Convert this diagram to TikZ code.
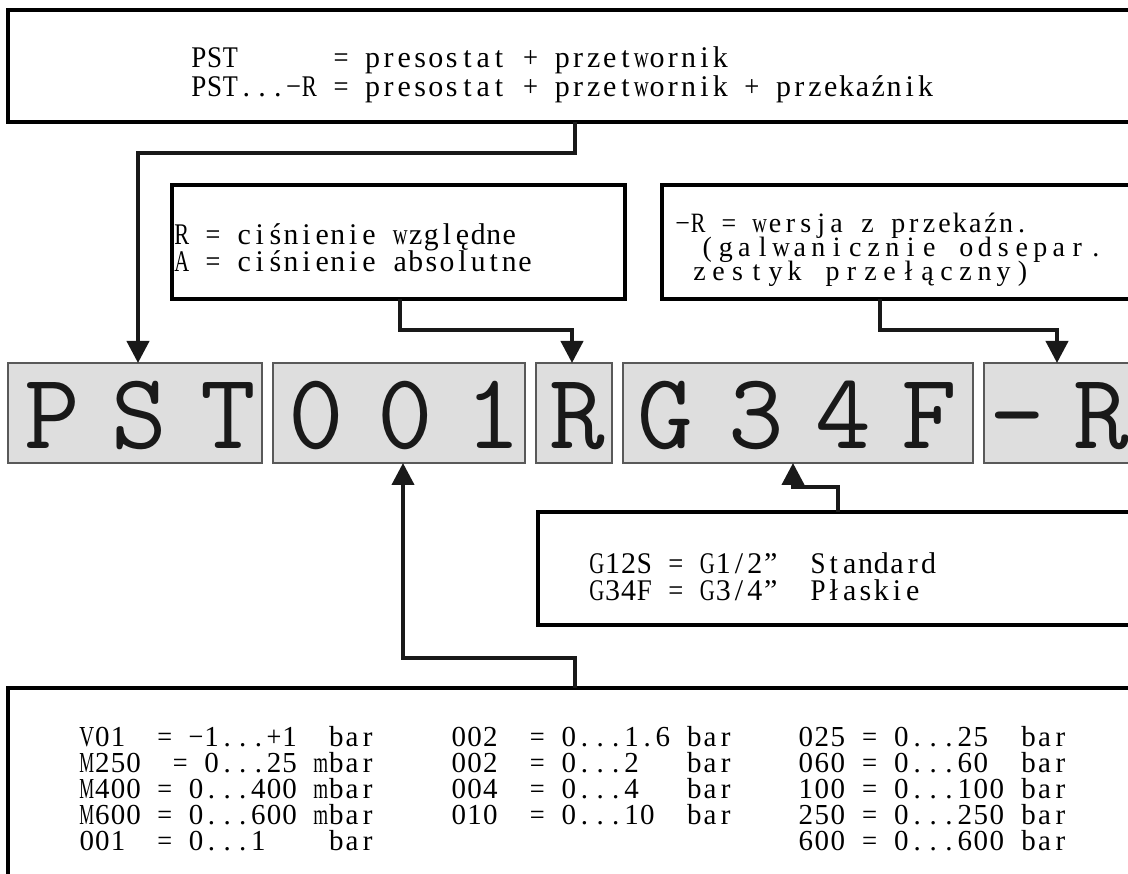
\documentclass[tikz,border=0pt]{standalone}
\usepackage{fontspec}
\usepackage{graphicx}
\usetikzlibrary{arrows.meta}
\newfontfamily\txtfont{Liberation Serif}
\newlength\monocw
\newlength\monomax
\newsavebox\monobox
\setlength\monocw{15.8pt}
\makeatletter
\def\mono@end{\mono@end}
\newcommand\mono@cell[1]{%
  \sbox\monobox{#1}%
  \ifdim\wd\monobox>\monomax\relax
    \pgfmathsetmacro\mono@f{\the\monomax/\the\wd\monobox}%
    \makebox[\monocw][c]{\scalebox{\mono@f}[1]{\usebox\monobox}}%
  \else
    \makebox[\monocw][c]{\usebox\monobox}%
  \fi}
\def\mono@aux#1{\ifx#1\mono@end\else\mono@cell{#1}\expandafter\mono@aux\fi}
\newcommand\monostr[2][15.8pt]{\setlength\monocw{#1}\setlength\monomax{0.95\monocw}\mono@aux#2\mono@end}
\makeatother
\tikzset{
  box/.style={draw=black, line width=4pt, inner sep=0pt, outer sep=0pt, anchor=north west},
  cbox/.style={draw=black!65, line width=1.3pt, fill=black!13, inner sep=0pt, outer sep=0pt, anchor=north west, minimum height=100pt},
  txt/.style={font=\txtfont\fontsize{30}{30}\selectfont, anchor=base west, inner sep=0pt, outer sep=0pt},
  smalltxt/.style={txt, font=\txtfont\fontsize{28}{28}\selectfont},
  rangetxt/.style={txt, font=\txtfont\fontsize{29}{29}\selectfont},
  code/.style={font=\fontsize{108}{108}\ttfamily\selectfont, anchor=base, inner sep=0pt, text=black!90},
  conn/.style={line width=4pt, draw=black!90, line join=miter},
  arr/.style={conn, -{Triangle[width=22pt,length=22pt]}}
}
\begin{document}
\begin{tikzpicture}[x=1pt,y=-1pt]
\useasboundingbox (0,0) rectangle (1128,874);
\clip (0,0) rectangle (1128,874);
\fill[white] (0,0) rectangle (1128,874);

% description boxes
\node[box, minimum width=1150pt, minimum height=112pt] (topbox) at (8,10) {};
\node[box, minimum width=453pt, minimum height=114pt] (relbox) at (172,185) {};
\node[box, minimum width=500pt, minimum height=114pt] (relaybox) at (662,185) {};
\node[box, minimum width=600pt, minimum height=113pt] (gbox) at (538,512) {};
\node[box, minimum width=1150pt, minimum height=300pt] (rangebox) at (8,688) {};

% code boxes
\node[cbox, minimum width=254pt] (bPST) at (8,363) {};
\node[cbox, minimum width=252pt] (b001) at (273,363) {};
\node[cbox, minimum width=76pt] (bR) at (536,363) {};
\node[cbox, minimum width=350pt] (bG) at (623,363) {};
\node[cbox, minimum width=170pt] (bMR) at (984,363) {};

% code letters
\node[code] (cP) at (52,449) {P};
\node[code] (cS) at (139,449) {S};
\node[code] (cT) at (228,449) {T};
\node[code] (c0a) at (316,449) {0};
\node[code] (c0b) at (405,449) {0};
\node[code] (c1) at (493,449) {1};
\node[code] (cR) at (577,449) {R};
\node[code] (cG) at (665,449) {G};
\node[code] (c3) at (756,449) {3};
\node[code] (c4) at (843,449) {4};
\node[code] (cF) at (929,449) {F};
\node[code] (cM) at (1017,449) {-};
\node[code] (cR2) at (1101,449) {R};

% texts
\node[txt] (t1) at (191,68) {\monostr{PST~~~~~~=~presostat~+~przetwornik}};
\node[txt] (t2) at (191,97) {\monostr{PST...−R~=~presostat~+~przetwornik~+~przekaźnik}};

\node[txt] (t3) at (174,245) {\monostr[15.6pt]{R~=~ciśnienie~względne}};
\node[txt] (t4) at (174,272) {\monostr[15.6pt]{A~=~ciśnienie~absolutne}};

\node[smalltxt] (t5) at (675,233) {\monostr[15.4pt]{−R~=~wersja~z~przekaźn.}};
\node[smalltxt] (t6) at (698,257) {\monostr[18.5pt]{(galwanicznie~odsepar.}};
\node[smalltxt] (t7) at (690,281) {\monostr[19pt]{zestyk~przełączny)}};

\node[txt] (t8) at (589,573) {\monostr{G12S~=~G1/2”~~Standard}};
\node[txt] (t9) at (589,600) {\monostr{G34F~=~G3/4”~~Płaskie}};

\node[rangetxt] (r1a) at (79,746) {\monostr[15.6pt]{V01~~=~−1...+1~~bar}};
\node[rangetxt] (r2a) at (79,772) {\monostr[15.6pt]{M250~~=~0...25~mbar}};
\node[rangetxt] (r3a) at (79,798) {\monostr[15.6pt]{M400~=~0...400~mbar}};
\node[rangetxt] (r4a) at (79,824) {\monostr[15.6pt]{M600~=~0...600~mbar}};
\node[rangetxt] (r5a) at (79,850) {\monostr[15.6pt]{001~~=~0...1~~~~bar}};

\node[rangetxt] (r1b) at (451,746) {\monostr[15.7pt]{002~~=~0...1.6~bar}};
\node[rangetxt] (r2b) at (451,772) {\monostr[15.7pt]{002~~=~0...2~~~bar}};
\node[rangetxt] (r3b) at (451,798) {\monostr[15.7pt]{004~~=~0...4~~~bar}};
\node[rangetxt] (r4b) at (451,824) {\monostr[15.7pt]{010~~=~0...10~~bar}};

\node[rangetxt] (r1c) at (798,746) {\monostr[15.9pt]{025~=~0...25~~bar}};
\node[rangetxt] (r2c) at (798,772) {\monostr[15.9pt]{060~=~0...60~~bar}};
\node[rangetxt] (r3c) at (798,798) {\monostr[15.9pt]{100~=~0...100~bar}};
\node[rangetxt] (r4c) at (798,824) {\monostr[15.9pt]{250~=~0...250~bar}};
\node[rangetxt] (r5c) at (798,850) {\monostr[15.9pt]{600~=~0...600~bar}};

% connectors
\coordinate (j1) at (575,153);
\coordinate (j2) at (138,153);
\draw[arr] (topbox.south -| j1) -- (j1) -- (j2) -- (j2 |- bPST.north);

\coordinate (j3) at (400,330);
\coordinate (j4) at (572,330);
\draw[arr] (relbox.south -| j3) -- (j3) -- (j4) -- (j4 |- bR.north);

\coordinate (j5) at (880,330);
\coordinate (j6) at (1057,330);
\draw[arr] (relaybox.south -| j5) -- (j5) -- (j6) -- (j6 |- bMR.north);

\coordinate (j7) at (838,487);
\coordinate (j8) at (793,487);
\draw[arr] (gbox.north -| j7) -- (j7) -- (j8) -- (j8 |- bG.south);

\coordinate (j9) at (575,658);
\coordinate (j10) at (403,658);
\draw[arr] (rangebox.north -| j9) -- (j9) -- (j10) -- (j10 |- b001.south);
\end{tikzpicture}
\end{document}
